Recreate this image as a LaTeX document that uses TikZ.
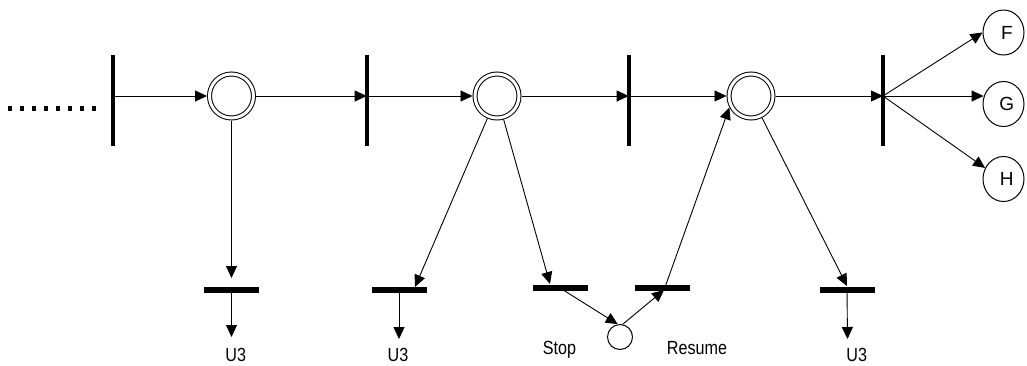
\documentclass[tikz,border=0pt]{standalone}
\usepackage{fontspec}
\setmainfont{Liberation Sans}
\usetikzlibrary{arrows.meta,shapes.geometric}
\newcommand{\narrowtxt}[1]{\scalebox{0.85}[1]{#1}}
\begin{document}
\begin{tikzpicture}[x=1pt,y=-1pt,
  every node/.style={font=\fontsize{19}{22}\selectfont},
  place/.style={circle, draw, line width=1pt, double, double distance=3pt,
    inner sep=0pt, minimum size=44pt, outer sep=2.5pt},
  tbarv/.style={fill=black, inner sep=0pt, minimum width=4pt, minimum height=91pt},
  tbarh/.style={fill=black, inner sep=0pt, minimum width=55pt, minimum height=6.5pt},
  endplace/.style={ellipse, draw, line width=1pt, inner sep=0pt,
    minimum width=41pt, minimum height=45pt},
  smallplace/.style={circle, draw, line width=1pt, inner sep=0pt, minimum size=25pt},
  arr/.style={-{Triangle[length=12pt,width=11pt]}, line width=0.9pt},
  lbl/.style={anchor=base, inner sep=0pt}]
\useasboundingbox (0,0) rectangle (1027,365);

% dotted lead-in
\draw[line width=4.5pt, dash pattern=on 4pt off 8pt] (8.3,108.3) -- (96.3,108.3);

% places
\node[place] (p1) at (231.5,96) {};
\node[place] (p2) at (497,96) {};
\node[place] (p3) at (751,96) {};

% vertical transitions
\node[tbarv] (t1) at (113,100.5) {};
\node[tbarv] (t2) at (366.7,100.5) {};
\node[tbarv] (t3) at (628.7,100.5) {};
\node[tbarv] (t4) at (883,100.5) {};
\coordinate (t1c) at (t1 |- p1);
\coordinate (t2c) at (t2 |- p1);
\coordinate (t3c) at (t3 |- p1);
\coordinate (t4c) at (t4 |- p1);

% end places
\node[endplace] (f) at (1003.5,32.5) {\hspace*{6.6pt}F};
\node[endplace] (g) at (1003.5,104) {\hspace*{6.6pt}G};
\node[endplace] (h) at (1003.5,179) {\hspace*{6.6pt}H};
\coordinate (gIn) at (983.6,96);

% bottom transitions
\node[tbarh] (ta) at (231.5,290) {};
\node[tbarh] (tb) at (399,290) {};
\node[tbarh] (tc) at (560,288) {};
\node[tbarh] (td) at (662,288) {};
\node[tbarh] (te) at (847,290) {};
\node[smallplace] (s) at (620,337) {};

% connector end points
\coordinate (taIn) at (231.5,278);
\coordinate (taOut) at (231.5,337);
\coordinate (tbIn) at (415,287);
\coordinate (tbOut) at (399,339);
\coordinate (tcIn) at (550,284);
\coordinate (tdP) at (664,290);
\coordinate (teIn) at (847,286);
\coordinate (teOut) at (847.5,339);

% main line
\draw[arr] (t1c) -- (p1);
\draw[arr] (p1) -- (t2c);
\draw[arr] (t2c) -- (p2);
\draw[arr] (p2) -- (t3c);
\draw[arr] (t3c) -- (p3);
\draw[arr] (p3) -- (t4c);
\draw[arr] (t4c) -- (f.west);
\draw[arr] (t4c) -- (gIn);
\draw[arr] (t4c) -- (h.149);

% branches
\draw[arr] (p1) -- (taIn);
\draw[arr] (ta.center) -- (taOut);
\draw[arr] (p2) -- (tbIn);
\draw[arr] (tb.center) -- (tbOut);
\draw[arr] (p2) -- (tcIn);
\draw[arr] (tc.center) -- (s.100);
\draw[arr] (s.78) -- (tdP);
\draw[arr] (tdP) -- (p3.208);
\draw[arr] (p3) -- (teIn);
\draw[arr] (te.center) -- (teOut);

% labels
\node[lbl] (u1) at (235.8,361) {\narrowtxt{U3}};
\node[lbl] (u2) at (398,361) {\narrowtxt{U3}};
\node[lbl] (u3) at (856.7,361) {\narrowtxt{U3}};
\node[lbl] (stop) at (559.5,354) {\narrowtxt{Stop}};
\node[lbl] (resume) at (697,354) {\narrowtxt{Resume}};
\end{tikzpicture}
\end{document}
